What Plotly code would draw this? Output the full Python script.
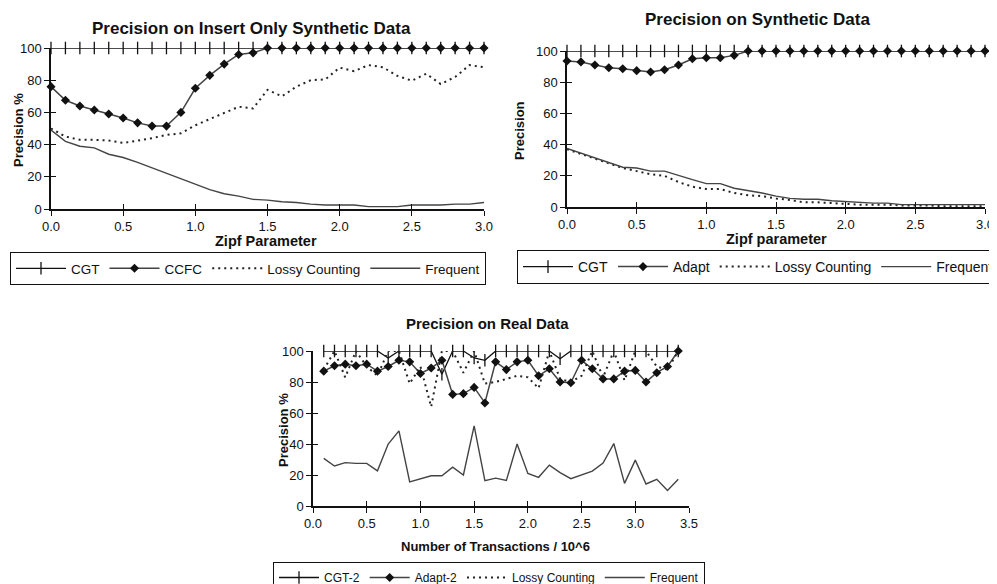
import plotly.graph_objects as go

# ---------------- data ----------------
zipf = [round(i * 0.1, 1) for i in range(31)]

ins_cgt = [100] * 31
ins_ccfc = [76, 67.5, 64, 61.5, 59, 56.5, 53.5, 51.5, 51.5, 60, 75, 83, 90, 96, 97,
            100, 100, 100, 100, 100, 100, 100, 100, 100, 100, 100, 100, 100, 100, 100, 100]
ins_lossy = [50, 45, 43, 43, 42.5, 41, 42.5, 44, 46, 47, 52, 56, 60, 63.5, 62.5,
             74, 70, 76, 80, 80.5, 87.8, 85.6, 89.4, 88, 82.7, 79.7, 84, 77.6, 82, 89.4, 88]
ins_freq = [49, 42, 39, 38, 34, 32, 29, 25.5, 22, 18.5, 15, 12, 9.5, 8, 6, 5.5, 4.5, 4,
            3, 2.5, 2.5, 2.5, 1.5, 1.5, 1.5, 2.5, 2.5, 2.5, 3, 3, 4]

syn_cgt = [100] * 31
syn_adapt = [93.6, 93, 91, 89.3, 88.6, 87.4, 86.5, 88, 91, 95, 95.7, 95.7, 97.2,
             100, 100, 100, 100, 100, 100, 100, 100, 100, 100, 100, 100, 100, 100, 100, 100, 100, 100]
syn_lossy = [37, 34, 31, 28, 25, 23, 21, 20, 16, 13, 11.5, 11.5, 9, 7.5, 7, 5.5, 4.5, 3,
             3, 2.5, 2, 1.5, 1.5, 1.5, 1, 1, 1, 0.5, 0.5, 0.5, 0.5]
syn_freq = [37.5, 34.5, 31, 28, 25.5, 25, 23, 23, 20, 17.5, 15, 15, 12, 10.5, 9, 7, 5.5,
            5, 5, 4, 3.5, 3, 2.5, 2.5, 1.5, 1.5, 1.5, 1.5, 1.5, 1.5, 1.5]

trans = [round(i * 0.1, 1) for i in range(1, 35)]
real_cgt = [100, 100, 100, 100, 100, 100, 95.5, 100, 100, 100, 100, 85, 100, 100, 95.5, 94,
            100, 100, 100, 100, 100, 100, 95, 100, 100, 100, 100, 100, 100, 100, 100, 100, 100, 100]
real_adapt = [87, 90.5, 91.5, 90.5, 91.5, 87, 90, 94, 93, 85.5, 89, 94, 72, 72.5, 76.5, 66.5,
              93, 88, 93, 94, 84, 88.5, 80, 79.5, 94, 88.5, 82, 82, 87, 87.5, 80, 86, 90, 100]
real_lossy = [88, 100, 83, 100, 90, 84, 100, 100, 79, 90, 64, 100, 100, 86, 100, 79,
              80, 82, 84, 83, 76, 100, 82, 80, 84, 100, 83, 100, 81, 100, 100, 90, 88, 100]
real_freq = [30.7, 25.8, 28, 27.5, 27.5, 22.7, 40, 48.5, 15.5, 17.4, 19.5, 19.5, 25, 20,
             51.7, 16.3, 18, 16.5, 40, 21, 18.5, 26.4, 21.5, 17.6, 20, 22.5, 27.7, 40.3,
             14.6, 29.6, 14.2, 17.2, 10, 17.2]

W, H = 997, 584
OFF = 8  # default page margin around the figure
FONT = "Liberation Sans, Arial, sans-serif"
INK = "#111111"

fig = go.Figure()


def add_set(x, ys, names, xa, ya, legend):
    cgt, mid, lossy, freq = ys
    fig.add_trace(go.Scatter(x=x, y=cgt, name=names[0], mode="lines+markers", xaxis=xa, yaxis=ya,
                             legend=legend, cliponaxis=False, line=dict(color=INK, width=1.3),
                             marker=dict(symbol="line-ns-open", size=9, line=dict(color=INK, width=1.3))))
    fig.add_trace(go.Scatter(x=x, y=mid, name=names[1], mode="lines+markers", xaxis=xa, yaxis=ya,
                             legend=legend, cliponaxis=False, line=dict(color="#444444", width=1.5),
                             marker=dict(symbol="diamond", size=7, color=INK)))
    fig.add_trace(go.Scatter(x=x, y=lossy, name=names[2], mode="lines", xaxis=xa, yaxis=ya,
                             legend=legend, cliponaxis=False,
                             line=dict(color="#222222", width=2, dash="2px,4px")))
    fig.add_trace(go.Scatter(x=x, y=freq, name=names[3], mode="lines", xaxis=xa, yaxis=ya,
                             legend=legend, cliponaxis=False, line=dict(color="#444444", width=1.4)))


add_set(zipf, (ins_cgt, ins_ccfc, ins_lossy, ins_freq),
        ["CGT", "CCFC", "Lossy Counting", "Frequent"], "x", "y", "legend")
add_set(zipf, (syn_cgt, syn_adapt, syn_lossy, syn_freq),
        ["CGT", "Adapt", "Lossy Counting", "Frequent"], "x2", "y2", "legend2")
add_set(trans, (real_cgt, real_adapt, real_lossy, real_freq),
        ["CGT-2", "Adapt-2", "Lossy Counting", "Frequent"], "x3", "y3", "legend3")


def px_x(p):
    return (p - OFF) / W


def px_y(p):
    return 1 - (p - OFF) / H


tickfont = dict(family=FONT, size=13, color=INK)

panels = [
    ("xaxis", "yaxis", (51, 484), (48, 209), [0, 3.0], "x", "y"),
    ("xaxis2", "yaxis2", (567, 985), (51, 207), [0, 3.0], "x2", "y2"),
    ("xaxis3", "yaxis3", (313, 689), (351, 506), [0, 3.5], "x3", "y3"),
]

layout = dict(width=W, height=H, margin=dict(l=0, r=0, t=0, b=0, autoexpand=False), autosize=False,
              paper_bgcolor="white", plot_bgcolor="white", font=dict(family=FONT, color=INK))

n = 4
for xk, yk, (x0, x1), (y0, y1), xr, xid, yid in panels:
    xd = [px_x(x0), px_x(x1)]
    yd = [px_y(y1), px_y(y0)]
    layout[xk] = dict(domain=xd, range=xr, anchor=yid, showgrid=False, zeroline=False,
                      showline=True, linecolor=INK, linewidth=1.5, ticks="outside", ticklen=5,
                      tickwidth=1.3, tickcolor=INK, dtick=0.5, tick0=0, tickformat=".1f",
                      tickfont=tickfont)
    layout[yk] = dict(domain=yd, range=[0, 100], anchor=xid, showgrid=False, zeroline=False,
                      showline=True, linecolor=INK, linewidth=1.5, ticks="outside", ticklen=5,
                      tickwidth=1.3, tickcolor=INK, dtick=20, tickfont=tickfont)
    # overlay axes providing the inner half of crossing tick marks
    ox, oy = "x%d" % n, "y%d" % n
    layout["xaxis%d" % n] = dict(overlaying=xid, anchor=oy, range=xr, domain=xd, dtick=0.5, tick0=0,
                                 ticks="inside", ticklen=5, tickwidth=1.3, tickcolor=INK,
                                 showticklabels=False, showgrid=False, zeroline=False, showline=False)
    layout["yaxis%d" % n] = dict(overlaying=yid, anchor=ox, range=[0, 100], domain=yd, dtick=20,
                                 ticks="inside", ticklen=5, tickwidth=1.3, tickcolor=INK,
                                 showticklabels=False, showgrid=False, zeroline=False, showline=False)
    fig.add_trace(go.Scatter(x=[None], y=[None], xaxis=ox, yaxis=oy, showlegend=False,
                             hoverinfo="skip", mode="lines"))
    n += 1

common_leg = dict(orientation="h", bgcolor="white", bordercolor=INK, borderwidth=1,
                  xanchor="left", yanchor="top", xref="paper", yref="paper",
                  tracegroupgap=0, itemclick=False)
layout["legend"] = dict(common_leg, x=px_x(10), y=px_y(252), itemwidth=50,
                        font=dict(family=FONT, size=13.5, color=INK))
layout["legend2"] = dict(common_leg, x=px_x(517), y=px_y(250), itemwidth=50,
                         font=dict(family=FONT, size=14, color=INK))
layout["legend3"] = dict(common_leg, x=px_x(273), y=px_y(562), itemwidth=40,
                         font=dict(family=FONT, size=12, color=INK))


def label(text, x, y, size, angle=0):
    return dict(text="<b>%s</b>" % text, x=px_x(x), y=px_y(y), xanchor="center", yanchor="middle",
                xref="paper", yref="paper", showarrow=False, textangle=angle,
                font=dict(family=FONT, size=size, color=INK))


layout["annotations"] = [
    label("Precision on Insert Only Synthetic Data", 251, 28, 17),
    label("Precision on Synthetic Data", 757, 20, 17),
    label("Precision on Real Data", 487, 323, 15),
    label("Zipf Parameter", 266, 241, 14.5),
    label("Zipf parameter", 776, 239, 14.5),
    label("Number of Transactions / 10^6", 495, 546, 13),
    label("Precision %", 18, 130, 13, -90),
    label("Precision", 519, 130, 13, -90),
    label("Precision %", 283, 430, 13, -90),
]

fig.update_layout(**layout)
fig.write_html("out.html")
